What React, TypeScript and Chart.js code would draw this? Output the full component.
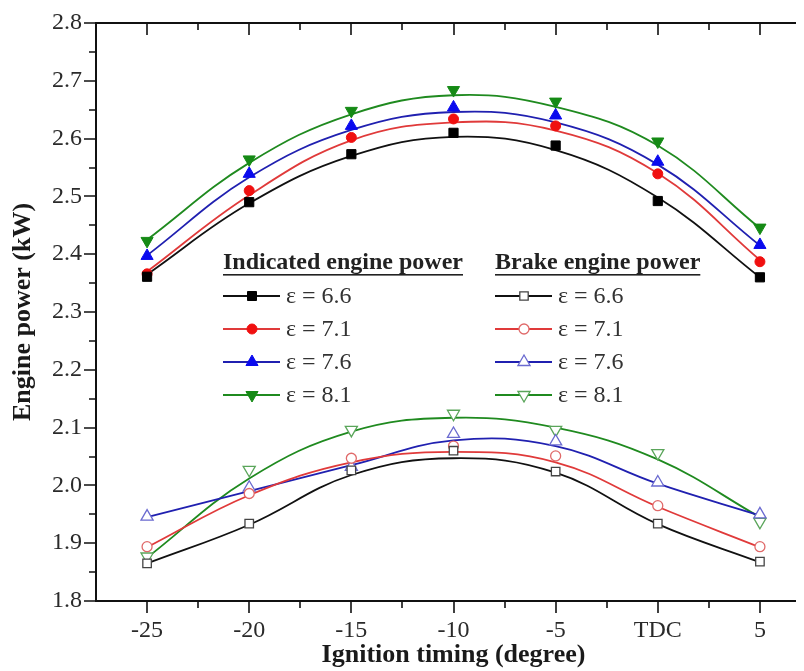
import React, { useEffect, useRef } from "react";
import { Chart, registerables } from "chart.js";

Chart.register(...registerables);

// Ignition timing (degrees, 0 = TDC)
const ignitionTiming = [-25, -20, -15, -10, -5, 0, 5];

// Indicated engine power, measured (kW)
const indicated66 = [2.361, 2.49, 2.573, 2.61, 2.588, 2.492, 2.36];
const indicated71 = [2.366, 2.51, 2.602, 2.634, 2.622, 2.539, 2.387];
const indicated76 = [2.397, 2.539, 2.622, 2.654, 2.64, 2.56, 2.416];
const indicated81 = [2.423, 2.564, 2.648, 2.684, 2.664, 2.595, 2.446];

// Indicated engine power, fitted trend (kW)
const indicatedFit66 = [2.365, 2.488, 2.57, 2.603, 2.58, 2.498, 2.36];
const indicatedFit71 = [2.37, 2.502, 2.597, 2.628, 2.614, 2.54, 2.39];
const indicatedFit76 = [2.398, 2.533, 2.615, 2.646, 2.628, 2.555, 2.415];
const indicatedFit81 = [2.425, 2.558, 2.642, 2.675, 2.655, 2.588, 2.445];

// Brake engine power, measured (kW)
const brake66 = [1.865, 1.934, 2.026, 2.06, 2.024, 1.934, 1.868];
const brake71 = [1.894, 1.986, 2.047, 2.068, 2.051, 1.965, 1.894];
const brake76 = [1.946, 1.996, 2.032, 2.089, 2.076, 2.005, 1.95];
const brake81 = [1.877, 2.027, 2.096, 2.124, 2.096, 2.056, 1.937];

// Brake engine power, smoothed trend (kW)
const brakeFit66 = [1.865, 1.932, 2.018, 2.047, 2.022, 1.933, 1.867];
const brakeFit71 = [1.893, 1.983, 2.04, 2.058, 2.04, 1.963, 1.893];
const brakeFit76 = [1.945, 1.99, 2.035, 2.078, 2.068, 2.003, 1.948];
const brakeFit81 = [1.875, 2.012, 2.093, 2.117, 2.1, 2.045, 1.945];

// Axis ticks
const xTickValues = [-25, -20, -15, -10, -5, 0, 5];
const xTickLabels = ["-25", "-20", "-15", "-10", "-5", "TDC", "5"];
const yTickValues = [1.8, 1.9, 2.0, 2.1, 2.2, 2.3, 2.4, 2.5, 2.6, 2.7, 2.8];

const ratioLabels = ["\u03b5 = 6.6", "\u03b5 = 7.1", "\u03b5 = 7.6", "\u03b5 = 8.1"];

const SERIF = "'Liberation Serif', 'Times New Roman', serif";

type Shape = "square" | "circle" | "triangle" | "invTriangle";

const styles: { line: string; fill: string; open: string; shape: Shape }[] = [
  { line: "#111111", fill: "#000000", open: "#444444", shape: "square" },
  { line: "#e03a3a", fill: "#f01010", open: "#e06a6a", shape: "circle" },
  { line: "#2020b0", fill: "#0a0aee", open: "#6a6ad0", shape: "triangle" },
  { line: "#1f8a1f", fill: "#158a15", open: "#5aa55a", shape: "invTriangle" },
];

const pts = (ys: number[]) => ignitionTiming.map((x, i) => ({ x, y: ys[i] }));

function pointStyleOf(shape: Shape) {
  if (shape === "square") return "rect";
  if (shape === "circle") return "circle";
  return "triangle";
}

function markerSet(ys: number[], i: number, filled: boolean) {
  const s = styles[i];
  const radius = s.shape === "square" ? (filled ? 6.5 : 6) : s.shape === "circle" ? 5 : 7;
  return {
    data: pts(ys),
    showLine: false,
    pointStyle: pointStyleOf(s.shape),
    rotation: s.shape === "invTriangle" ? 180 : 0,
    pointRadius: radius,
    pointBackgroundColor: filled ? s.fill : "#ffffff",
    pointBorderColor: filled ? s.fill : s.open,
    pointBorderWidth: filled ? 1 : 1.3,
    borderColor: s.line,
    order: 0,
  };
}

function curveSet(ys: number[], i: number) {
  return {
    data: pts(ys),
    showLine: true,
    borderColor: styles[i].line,
    borderWidth: 1.8,
    pointRadius: 0,
    tension: 0.4,
    fill: false,
    order: 1,
  };
}

function drawMarker(ctx: CanvasRenderingContext2D, shape: Shape, x: number, y: number, filled: boolean, color: string, openColor: string) {
  ctx.save();
  ctx.beginPath();
  if (shape === "square") {
    const h = filled ? 4.5 : 4.2;
    ctx.rect(x - h, y - h, 2 * h, 2 * h);
  } else if (shape === "circle") {
    ctx.arc(x, y, 5, 0, Math.PI * 2);
  } else {
    const r = 7;
    const dir = shape === "triangle" ? -1 : 1;
    ctx.moveTo(x, y + dir * r);
    ctx.lineTo(x + r * 0.866, y - dir * r * 0.5);
    ctx.lineTo(x - r * 0.866, y - dir * r * 0.5);
    ctx.closePath();
  }
  ctx.fillStyle = filled ? color : "#ffffff";
  ctx.fill();
  ctx.lineWidth = filled ? 1 : 1.3;
  ctx.strokeStyle = filled ? color : openColor;
  ctx.stroke();
  ctx.restore();
}

// Frame with outward ticks on bottom/left and inward ticks on top/right
const framePlugin = {
  id: "frame",
  afterDraw(chart: any) {
    const { ctx, chartArea } = chart;
    const { left, right, top, bottom } = chartArea;
    const xs = chart.scales.x;
    const ys = chart.scales.y;
    ctx.save();
    ctx.strokeStyle = "#111111";
    ctx.lineWidth = 2;
    ctx.strokeRect(left, top, right - left, bottom - top);
    ctx.lineWidth = 1.6;
    ctx.beginPath();
    for (let v = -27.5; v <= 7.5 + 1e-6; v += 2.5) {
      const major = Math.abs(v % 5) < 1e-6;
      const len = major ? 12 : 7;
      const px = Math.round(xs.getPixelForValue(v));
      if (px <= left + 1 || px >= right - 1) continue;
      ctx.moveTo(px, bottom);
      ctx.lineTo(px, bottom + len);
      ctx.moveTo(px, top);
      ctx.lineTo(px, top + len);
    }
    for (let k = 0; k <= 20; k++) {
      const v = 1.8 + k * 0.05;
      const major = k % 2 === 0;
      const len = major ? 12 : 7;
      const py = Math.round(ys.getPixelForValue(v));
      ctx.moveTo(left, py);
      ctx.lineTo(left - len, py);
      ctx.moveTo(right, py);
      ctx.lineTo(right - len, py);
    }
    ctx.stroke();
    ctx.restore();
  },
};

// Two-column legend with underlined group headers
const legendPlugin = {
  id: "groupLegend",
  afterDraw(chart: any) {
    const { ctx } = chart;
    const columns = [
      { title: "Indicated engine power", x: 215, filled: true },
      { title: "Brake engine power", x: 487, filled: false },
    ];
    const headerY = 255;
    const rowY = [288, 321, 354, 387];
    ctx.save();
    ctx.textBaseline = "middle";
    ctx.textAlign = "left";
    columns.forEach((col) => {
      ctx.font = `bold 24px ${SERIF}`;
      ctx.fillStyle = "#222222";
      ctx.fillText(col.title, col.x, headerY);
      const w = ctx.measureText(col.title).width;
      ctx.fillRect(col.x, headerY + 11, w, 1.6);
      ratioLabels.forEach((label, i) => {
        const s = styles[i];
        const y = rowY[i];
        ctx.strokeStyle = s.line;
        ctx.lineWidth = 1.8;
        ctx.beginPath();
        ctx.moveTo(col.x, y);
        ctx.lineTo(col.x + 57, y);
        ctx.stroke();
        drawMarker(ctx, s.shape, col.x + 29, y, col.filled, s.fill, s.open);
        ctx.font = `24px ${SERIF}`;
        ctx.fillStyle = "#333333";
        ctx.fillText(label, col.x + 63, y + 1);
      });
    });
    ctx.restore();
  },
};

export default function App() {
  const canvasRef = useRef<HTMLCanvasElement | null>(null);

  useEffect(() => {
    const canvas = canvasRef.current;
    if (!canvas) return;
    const datasets: any[] = [];
    [indicatedFit66, indicatedFit71, indicatedFit76, indicatedFit81].forEach((d, i) => datasets.push(curveSet(d, i)));
    [brakeFit66, brakeFit71, brakeFit76, brakeFit81].forEach((d, i) => datasets.push(curveSet(d, i)));
    [indicated66, indicated71, indicated76, indicated81].forEach((d, i) => datasets.push(markerSet(d, i, true)));
    [brake66, brake71, brake76, brake81].forEach((d, i) => datasets.push(markerSet(d, i, false)));

    const chart = new Chart(canvas, {
      type: "scatter",
      data: { datasets },
      options: {
        responsive: false,
        animation: false,
        layout: { padding: { top: 15, right: 12, left: 0, bottom: 0 } },
        plugins: { legend: { display: false }, tooltip: { enabled: false } },
        scales: {
          x: {
            type: "linear",
            min: -27.5,
            max: 7.5,
            grid: { display: false, drawTicks: false },
            border: { display: false },
            afterBuildTicks: (s: any) => {
              s.ticks = xTickValues.map((v) => ({ value: v }));
            },
            afterFit: (s: any) => {
              s.height = 70;
              s.paddingLeft = 0;
              s.paddingRight = 0;
            },
            ticks: {
              autoSkip: false,
              maxRotation: 0,
              padding: 15,
              color: "#2a2a2a",
              font: { family: SERIF, size: 24 },
              callback: (v: any) => xTickLabels[xTickValues.indexOf(Number(v))] ?? "",
            },
            title: {
              display: true,
              text: "Ignition timing (degree)",
              color: "#1a1a1a",
              font: { family: SERIF, size: 26, weight: "bold" },
              padding: { top: 0, bottom: 0 },
            },
          },
          y: {
            type: "linear",
            min: 1.8,
            max: 2.8,
            grid: { display: false, drawTicks: false },
            border: { display: false },
            afterBuildTicks: (s: any) => {
              s.ticks = yTickValues.map((v) => ({ value: v }));
            },
            afterFit: (s: any) => {
              s.width = 88;
              s.paddingTop = 0;
              s.paddingBottom = 0;
            },
            ticks: {
              padding: 14,
              color: "#2a2a2a",
              font: { family: SERIF, size: 24 },
              callback: (v: any) => Number(v).toFixed(1),
            },
            title: {
              display: true,
              text: "Engine power (kW)",
              color: "#1a1a1a",
              font: { family: SERIF, size: 26, weight: "bold" },
              padding: { top: 0, bottom: 0 },
            },
          },
        },
      },
      plugins: [framePlugin, legendPlugin],
    } as any);
    return () => chart.destroy();
  }, []);

  return (
    <div style={{ width: 796, height: 663, overflow: "hidden", background: "#ffffff" }}>
      <canvas ref={canvasRef} width={815} height={663} style={{ display: "block" }} />
    </div>
  );
}
